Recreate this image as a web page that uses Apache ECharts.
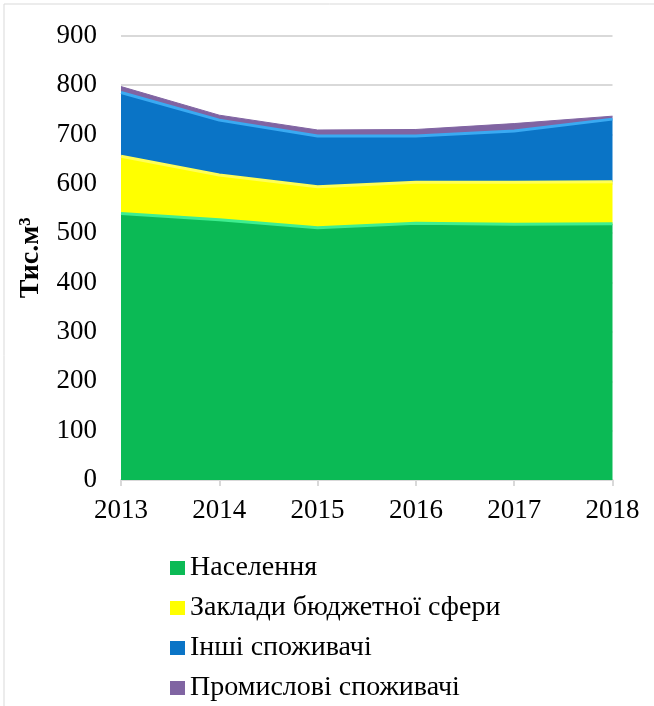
<!DOCTYPE html>
<html>
<head>
<meta charset="utf-8">
<script src="https://cdn.jsdelivr.net/npm/echarts@6/dist/echarts.min.js"></script>
<style>
html,body{margin:0;padding:0;background:#fff;}
#c{width:654px;height:706px;}
</style>
</head>
<body>
<div id="c"></div>
<script>
var years = ['2013','2014','2015','2016','2017','2018'];
var naselennia = [540, 527, 511, 520, 518, 519];
var zaklady = [116, 91, 83, 83, 85, 85];
var inshi = [129, 111, 103, 94, 104, 127];
var promyslovi = [12, 10, 12, 13, 15, 6];
var yTicks = [0, 100, 200, 300, 400, 500, 600, 700, 800, 900];

var names = ['Населення', 'Заклади бюджетної сфери', 'Інші споживачі', 'Промислові споживачі'];
var fills = ['#0BBA55', '#FFFF00', '#0A74C6', '#8064A2'];
var highlights = ['#3FEE90', '#FFFF55', '#3AAAF2', '#8064A2'];
var values = [naselennia, zaklady, inshi, promyslovi];

var FONT = '"Liberation Serif", "Times New Roman", serif';

var series = values.map(function (v, i) {
  return {
    name: names[i],
    type: 'line',
    stack: 'total',
    data: v,
    symbol: 'none',
    smooth: false,
    lineStyle: { color: highlights[i], width: i === 3 ? 1 : 3 },
    itemStyle: { color: fills[i] },
    areaStyle: { color: fills[i], opacity: 1 },
    emphasis: { disabled: true }
  };
});

var chart = echarts.init(document.getElementById('c'), null, { renderer: 'canvas' });
chart.setOption({
  animation: false,
  backgroundColor: '#fff',
  graphic: [{
    type: 'rect',
    shape: { x: 4, y: 4, width: 660, height: 720 },
    style: { fill: 'none', stroke: '#D9D9D9', lineWidth: 1 },
    silent: true
  }],
  grid: { left: 121, right: 41.5, top: 35.7, bottom: 226, containLabel: false },
  xAxis: {
    type: 'category',
    data: years,
    boundaryGap: false,
    axisLine: { show: true, lineStyle: { color: '#D9D9D9', width: 2 } },
    axisTick: { show: true, length: 6, lineStyle: { color: '#D9D9D9', width: 2 } },
    axisLabel: { color: '#000', fontFamily: FONT, fontSize: 27, margin: 17 },
    splitLine: { show: false }
  },
  yAxis: {
    type: 'value',
    min: yTicks[0],
    max: yTicks[yTicks.length - 1],
    interval: 100,
    name: 'Тис.м³',
    nameLocation: 'middle',
    nameGap: 76,
    nameRotate: 90,
    nameTextStyle: { color: '#000', fontFamily: FONT, fontSize: 28, fontWeight: 'bold' },
    axisLine: { show: false },
    axisTick: { show: false },
    axisLabel: { color: '#000', fontFamily: FONT, fontSize: 27, margin: 24 },
    splitLine: { show: true, lineStyle: { color: '#D9D9D9', width: 2 } }
  },
  legend: {
    orient: 'vertical',
    left: 170,
    top: 554,
    padding: 0,
    itemWidth: 15,
    itemHeight: 14,
    itemGap: 12,
    icon: 'rect',
    data: names.map(function (n, i) {
      return { name: n, icon: 'rect', itemStyle: { color: fills[i] } };
    }),
    textStyle: { color: '#000', fontFamily: FONT, fontSize: 28, lineHeight: 28 },
    selectedMode: false
  },
  series: series
});
</script>
</body>
</html>
